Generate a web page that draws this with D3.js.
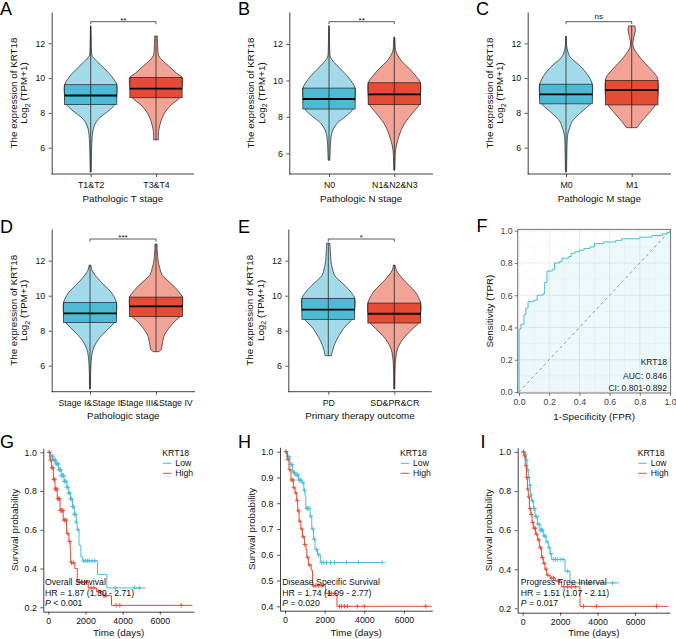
<!DOCTYPE html>
<html>
<head>
<meta charset="utf-8">
<script src="https://cdn.jsdelivr.net/npm/d3@7"></script>
<style>
  body { margin: 0; background: #fff; }
  svg { display: block; }
</style>
</head>
<body>
<svg id="fig" width="676" height="639"></svg>
<script>
// ---- violin / box data (KRT18, log2 TPM+1) ----
// box rows: [min, q1, median, q3, max]; density rows: [value, relative half-width]
const catsA = ["T1&T2", "T3&T4"];
const boxA = [[4.6, 8.48, 9.0, 9.62, 13.0], [6.45, 8.87, 9.4, 10.04, 12.42]];
const densA1 = [[13.0,0.01],[12.2,0.02],[11.6,0.03],[11.3,0.05],[11.04,0.19],[10.66,0.45],[10.28,0.7],[9.9,0.9],[9.62,1.0],[9.0,1.0],[8.48,0.92],[8.07,0.64],[7.69,0.32],[7.31,0.15],[6.92,0.08],[6.45,0.05],[5.5,0.03],[4.6,0.02]];
const densA2 = [[12.42,0.05],[12.0,0.06],[11.6,0.07],[11.3,0.1],[11.04,0.23],[10.66,0.51],[10.28,0.79],[10.04,1.0],[9.5,1.0],[8.87,0.9],[8.46,0.58],[8.07,0.36],[7.69,0.23],[7.31,0.15],[6.92,0.1],[6.45,0.09]];

const catsB = ["N0", "N1&N2&N3"];
const boxB = [[5.62, 8.43, 8.98, 9.58, 13.0], [5.07, 8.67, 9.23, 9.87, 12.37]];
const densB1 = [[13.0,0.01],[12.2,0.02],[11.6,0.03],[11.3,0.05],[11.0,0.19],[10.62,0.45],[10.24,0.7],[9.86,0.9],[9.58,1.0],[9.0,1.0],[8.43,0.92],[8.03,0.64],[7.66,0.32],[7.28,0.15],[6.9,0.08],[6.4,0.05],[5.9,0.04],[5.62,0.03]];
const densB2 = [[12.37,0.02],[12.0,0.03],[11.6,0.06],[11.1,0.26],[10.64,0.58],[10.2,0.85],[9.87,1.0],[9.2,1.0],[8.67,0.95],[8.3,0.75],[8.0,0.58],[7.6,0.38],[7.26,0.26],[6.7,0.13],[6.2,0.05],[5.6,0.03],[5.07,0.02]];

const catsC = ["M0", "M1"];
const boxC = [[4.6, 8.52, 9.06, 9.65, 12.4], [7.15, 8.46, 9.31, 9.87, 13.0]];
const densC1 = [[12.4,0.02],[11.8,0.03],[11.23,0.15],[10.95,0.35],[10.65,0.57],[10.2,0.82],[9.65,1.0],[9.0,1.0],[8.52,0.92],[8.15,0.66],[7.77,0.38],[7.47,0.22],[7.19,0.15],[6.8,0.07],[6.2,0.04],[5.4,0.03],[4.6,0.02]];
const densC2 = [[13.0,0.12],[12.75,0.14],[12.4,0.09],[12.1,0.05],[11.8,0.06],[11.42,0.2],[11.0,0.42],[10.65,0.64],[10.08,0.96],[9.87,1.0],[9.0,1.0],[8.46,0.9],[7.96,0.64],[7.48,0.36],[7.15,0.2]];

const catsD = ["Stage I&Stage II", "Stage III&Stage IV"];
const boxD = [[4.67, 8.46, 8.99, 9.62, 11.75], [6.8, 8.8, 9.39, 9.92, 12.95]];
const densD1 = [[11.75,0.03],[11.45,0.08],[11.18,0.19],[10.9,0.35],[10.6,0.54],[10.2,0.8],[9.62,1.0],[9.0,1.0],[8.46,0.92],[8.2,0.75],[7.94,0.58],[7.65,0.4],[7.37,0.26],[6.99,0.13],[6.5,0.06],[5.8,0.03],[4.67,0.02]];
const densD2 = [[12.95,0.04],[12.5,0.05],[12.0,0.08],[11.6,0.14],[11.18,0.23],[10.9,0.42],[10.6,0.64],[10.2,0.88],[9.92,1.0],[9.4,1.0],[8.8,0.9],[8.55,0.72],[8.32,0.58],[7.75,0.32],[7.18,0.23],[6.9,0.19],[6.8,0.1]];

const catsE = ["PD", "SD&PR&CR"];
const boxE = [[6.57, 8.65, 9.2, 9.85, 13.0], [4.67, 8.44, 8.97, 9.58, 11.75]];
const densE1 = [[13.0,0.06],[12.5,0.08],[12.0,0.1],[11.6,0.15],[11.18,0.23],[10.9,0.4],[10.6,0.62],[10.2,0.86],[9.85,1.0],[9.2,1.0],[8.65,0.9],[8.4,0.74],[8.13,0.58],[7.75,0.42],[7.37,0.28],[6.8,0.15],[6.57,0.12]];
const densE2 = [[11.75,0.03],[11.45,0.08],[11.18,0.2],[10.9,0.36],[10.6,0.55],[10.2,0.8],[9.58,1.0],[9.0,1.0],[8.44,0.92],[8.2,0.76],[7.94,0.58],[7.65,0.4],[7.37,0.26],[6.99,0.13],[6.5,0.06],[5.8,0.03],[4.67,0.02]];

const sigLabels = ["**", "**", "ns", "***", "*"];
const violinTicks = [6, 8, 10, 12];

// ---- ROC ----
const rocFpr = [0, 0, 0.013, 0.033, 0.045, 0.06, 0.1, 0.12, 0.16, 0.17, 0.185, 0.22, 0.235, 0.27, 0.285, 0.33, 0.345, 0.37, 0.4, 0.43, 0.47, 0.5, 0.56, 0.64, 0.68, 0.8, 0.88, 0.95, 0.98, 1];
const rocTpr = [0, 0.39, 0.42, 0.48, 0.52, 0.56, 0.57, 0.6, 0.61, 0.68, 0.75, 0.76, 0.8, 0.81, 0.83, 0.84, 0.86, 0.87, 0.88, 0.89, 0.9, 0.92, 0.93, 0.94, 0.95, 0.96, 0.97, 0.98, 0.99, 1];
const rocTicks = [0, 0.2, 0.4, 0.6, 0.8, 1.0];
const rocMinor = [0.1, 0.3, 0.5, 0.7, 0.9];
const rocText = ["KRT18", "AUC: 0.846", "CI: 0.801-0.892"];

// ---- Kaplan-Meier (time in days, survival probability) ----
const gLowT = [0, 100, 250, 400, 550, 700, 850, 1000, 1100, 1200, 1300, 1400, 1500, 1550, 1650, 1750, 1850, 2650, 3150];
const gLowS = [1.0, 0.98, 0.96, 0.94, 0.91, 0.88, 0.85, 0.82, 0.79, 0.76, 0.72, 0.68, 0.64, 0.6, 0.52, 0.46, 0.44, 0.37, 0.30];
const gLowC = [50,120,180,240,300,340,380,420,460,500,540,580,620,660,700,740,780,820,860,900,950,1000,1050,1100,1150,1200,1250,1300,1350,1400,1450,1500,1600,1900,2000,2100,2200,2350,2500,3600,4650,4900];
const gHighT = [0, 90, 180, 270, 360, 480, 630, 800, 985, 1110, 1180, 1200, 1430, 1560, 2150, 2600, 2950, 3400];
const gHighS = [1.0, 0.96, 0.92, 0.86, 0.81, 0.76, 0.70, 0.65, 0.58, 0.54, 0.50, 0.43, 0.40, 0.33, 0.30, 0.28, 0.26, 0.21];
const gHighC = [60,130,200,240,300,330,380,420,470,510,560,600,650,700,740,780,850,900,950,1050,1150,1250,1350,1650,1800,1950,2050,2300,2450,2700,2800,3000,3100,3650,3850,7150];

const hLowT = [0, 85, 250, 390, 500, 680, 850, 950, 1010, 1050, 1270, 1350, 1440, 1520, 1640, 1780];
const hLowS = [1.0, 0.98, 0.95, 0.92, 0.91, 0.89, 0.88, 0.85, 0.83, 0.78, 0.75, 0.70, 0.66, 0.62, 0.60, 0.57];
const hLowC = [60,150,200,300,350,430,470,550,600,650,700,750,800,900,980,1100,1150,1200,1300,1400,1480,1600,1700,1850,1950,2100,2300,2500,3100,3700,4900];
const hHighT = [0, 120, 200, 300, 420, 510, 590, 640, 710, 800, 880, 980, 1060, 1100, 1180, 1320, 1390, 2050, 2620];
const hHighS = [1.0, 0.97, 0.93, 0.89, 0.86, 0.84, 0.81, 0.77, 0.73, 0.70, 0.67, 0.64, 0.62, 0.59, 0.56, 0.54, 0.48, 0.45, 0.40];
const hHighC = [50,150,250,350,400,450,550,620,680,750,850,920,1000,1150,1250,1450,1550,1700,1850,2200,2350,2500,2750,2850,3000,3150,3650,4000,7100];

const iLowT = [0, 100, 180, 230, 300, 360, 410, 480, 570, 660, 780, 920, 1100, 1250, 1370, 1460, 1550, 2260, 2530];
const iLowS = [1.0, 0.99, 0.96, 0.91, 0.87, 0.83, 0.78, 0.75, 0.71, 0.67, 0.63, 0.60, 0.57, 0.54, 0.51, 0.48, 0.45, 0.39, 0.33];
const iLowC = [50,130,200,270,330,390,450,520,600,640,700,750,820,880,960,1000,1050,1150,1200,1300,1420,1500,1650,1750,1850,2000,2150,2400,3600,4800];
const iHighT = [0, 70, 140, 200, 250, 300, 360, 430, 500, 570, 690, 800, 890, 1010, 1100, 1190, 1280, 1460, 1730, 2080, 3060];
const iHighS = [1.0, 0.98, 0.93, 0.87, 0.81, 0.77, 0.71, 0.68, 0.64, 0.61, 0.58, 0.55, 0.51, 0.46, 0.43, 0.40, 0.37, 0.355, 0.34, 0.31, 0.21];
const iHighC = [40,100,170,220,280,330,390,460,530,620,660,730,850,950,1050,1150,1250,1350,1550,1650,1900,2200,2400,2600,2800,3250,3950,7150];

const kmEnds = { g: [5250, 7750], h: [5050, 7400], i: [5150, 7780] };
const kmNotes = {
  g: ["Overall Survival", "HR = 1.87 (1.30 - 2.71)", "< 0.001"],
  h: ["Disease Specific Survival", "HR = 1.74 (1.09 - 2.77)", "= 0.020"],
  i: ["Progress Free Interval", "HR = 1.51 (1.07 - 2.11)", "= 0.017"]
};
const kmGroups = ["Low", "High"];

// ---- drawing ----
const FONT = '"Liberation Sans", Arial, Helvetica, sans-serif';
const BLUE = "#4DBBD5", RED = "#E64B35";
const BLUE_L = "#A3DAE9", RED_L = "#F3A396";
const INK = "#111";

const svg = d3.select("#fig").attr("font-family", FONT);

function styleAxis(sel, size, color) {
  sel.attr("font-family", FONT).attr("font-size", size);
  sel.selectAll("text").attr("fill", color || INK);
  sel.selectAll("line").attr("stroke", color || INK).attr("stroke-width", 0.7);
  sel.selectAll("path.domain").attr("stroke", color || INK).attr("stroke-width", 0.8);
}

function letter(txt, x, y) {
  svg.append("text").attr("x", x).attr("y", y).attr("font-size", 18).attr("fill", "#000").text(txt);
}

function expressionTitle(axisX, cy) {
  svg.append("text")
      .attr("transform", `translate(${axisX - 35},${cy}) rotate(-90)`)
      .attr("text-anchor", "middle").attr("font-size", 9.8).attr("fill", INK)
      .text("The expression of KRT18");
  const t2 = svg.append("text")
      .attr("transform", `translate(${axisX - 24.5},${cy}) rotate(-90)`)
      .attr("text-anchor", "middle").attr("font-size", 9.8).attr("fill", INK);
  t2.append("tspan").text("Log");
  t2.append("tspan").attr("font-size", 7).attr("dy", 2.5).text("2");
  t2.append("tspan").attr("dy", -2.5).text(" (TPM+1)");
}

function violinPanel(p) {
  const g = svg.append("g");
  const y0 = d3.scaleLinear().domain([6, 12]).range([p.y6, p.y12]);
  const y = d3.scaleLinear().domain([y0.invert(p.bottom), y0.invert(p.top)]).range([p.bottom, p.top]);
  const x = d3.scalePoint().domain(p.cats).range([p.c1, p.c2]);
  const step = p.c2 - p.c1;
  const vw = step * 0.4, bw = step * 0.4;

  p.cats.forEach((c, i) => {
    const cx = x(c);
    const area = d3.area()
        .curve(d3.curveCatmullRom)
        .y(d => y(d[0]))
        .x0(d => cx - vw * d[1])
        .x1(d => cx + vw * d[1]);
    g.append("path")
        .attr("d", area(p.dens[i]))
        .attr("fill", i ? RED_L : BLUE_L)
        .attr("stroke", INK)
        .attr("stroke-width", 0.65);
    const b = p.boxes[i];
    g.append("rect")
        .attr("x", cx - bw).attr("y", y(b[3]))
        .attr("width", 2 * bw).attr("height", y(b[1]) - y(b[3]))
        .attr("fill", i ? RED : BLUE)
        .attr("stroke", "#222").attr("stroke-width", 0.7);
    g.append("line")
        .attr("x1", cx).attr("x2", cx)
        .attr("y1", y(b[0])).attr("y2", y(b[4]))
        .attr("stroke", INK).attr("stroke-width", 0.7);
    g.append("line")
        .attr("x1", cx - bw).attr("x2", cx + bw)
        .attr("y1", y(b[2])).attr("y2", y(b[2]))
        .attr("stroke", "#000").attr("stroke-width", 1.8);
  });

  // significance bracket
  const x1 = x(p.cats[0]), x2 = x(p.cats[1]);
  g.append("path")
      .attr("d", `M${x1},${p.by + 2.5}V${p.by}H${x2}V${p.by + 2.5}`)
      .attr("fill", "none").attr("stroke", INK).attr("stroke-width", 0.7);
  const isStar = p.sig.indexOf("*") >= 0;
  g.append("text")
      .attr("x", (x1 + x2) / 2).attr("y", isStar ? p.by + 0.8 : p.by - 2.4)
      .attr("text-anchor", "middle").attr("font-size", 8).attr("fill", INK)
      .text(p.sig);

  const ya = g.append("g").attr("transform", `translate(${p.ax},0)`)
      .call(d3.axisLeft(y).tickValues(violinTicks).tickSize(3).tickPadding(3.5).tickSizeOuter(0));
  styleAxis(ya, 8.8);

  const xa = g.append("g").attr("transform", `translate(0,${p.bottom})`)
      .call(d3.axisBottom(x).tickSize(3).tickPadding(p.xpad).tickSizeOuter(0));
  xa.select(".domain").remove();
  styleAxis(xa, 8.8);
  g.append("line")
      .attr("x1", p.ax).attr("x2", p.axEnd)
      .attr("y1", p.bottom).attr("y2", p.bottom)
      .attr("stroke", INK).attr("stroke-width", 0.8);

  expressionTitle(p.ax, (p.top + p.bottom) / 2);
  g.append("text")
      .attr("x", (p.ax + p.axEnd) / 2).attr("y", p.titleY)
      .attr("text-anchor", "middle").attr("font-size", 9.8).attr("fill", INK)
      .text(p.xTitle);
}

function rocPanel() {
  const g = svg.append("g");
  const left = 517.7, right = 670.7, top = 229.3, bottom = 393;
  const x = d3.scaleLinear().domain([0, 1]).range([519, 670]);
  const y = d3.scaleLinear().domain([0, 1]).range([392, 230.7]);

  g.append("rect").attr("x", left).attr("y", top)
      .attr("width", right - left).attr("height", bottom - top).attr("fill", "#fff");
  rocMinor.forEach(v => {
    g.append("line").attr("x1", x(v)).attr("x2", x(v)).attr("y1", top).attr("y2", bottom)
        .attr("stroke", "#F2F2F2").attr("stroke-width", 0.5);
    g.append("line").attr("x1", left).attr("x2", right).attr("y1", y(v)).attr("y2", y(v))
        .attr("stroke", "#F2F2F2").attr("stroke-width", 0.5);
  });
  rocTicks.forEach(v => {
    g.append("line").attr("x1", x(v)).attr("x2", x(v)).attr("y1", top).attr("y2", bottom)
        .attr("stroke", "#E6E6E6").attr("stroke-width", 0.8);
    g.append("line").attr("x1", left).attr("x2", right).attr("y1", y(v)).attr("y2", y(v))
        .attr("stroke", "#E6E6E6").attr("stroke-width", 0.8);
  });

  const pts = rocFpr.map((f, i) => [f, rocTpr[i]]);
  const area = d3.area().curve(d3.curveStepAfter)
      .x(d => x(d[0])).y0(y(0)).y1(d => y(d[1]));
  g.append("path").attr("d", area(pts)).attr("fill", BLUE).attr("fill-opacity", 0.1);

  g.append("line").attr("x1", x(0)).attr("y1", y(0)).attr("x2", x(1)).attr("y2", y(1))
      .attr("stroke", "#808080").attr("stroke-width", 0.8).attr("stroke-dasharray", "3,3");

  const line = d3.line().curve(d3.curveStepAfter).x(d => x(d[0])).y(d => y(d[1]));
  g.append("path").attr("d", line(pts)).attr("fill", "none")
      .attr("stroke", "#4DBBD5").attr("stroke-width", 1);

  rocText.forEach((t, i) => {
    g.append("text").attr("x", 667).attr("y", [364.7, 378.7, 390.7][i])
        .attr("text-anchor", "end").attr("font-size", 8.5).attr("fill", "#222").text(t);
  });

  g.append("rect").attr("x", left).attr("y", top)
      .attr("width", right - left).attr("height", bottom - top)
      .attr("fill", "none").attr("stroke", "#555").attr("stroke-width", 0.8);

  const fmt = d3.format(".1f");
  const xa = g.append("g").attr("transform", `translate(0,${bottom})`)
      .call(d3.axisBottom(x).tickValues(rocTicks).tickFormat(fmt).tickSize(3).tickPadding(2.5).tickSizeOuter(0));
  xa.select(".domain").remove();
  styleAxis(xa, 8.8, "#444");
  const ya = g.append("g").attr("transform", `translate(${left},0)`)
      .call(d3.axisLeft(y).tickValues(rocTicks).tickFormat(fmt).tickSize(3).tickPadding(2).tickSizeOuter(0));
  ya.select(".domain").remove();
  styleAxis(ya, 8.8, "#444");

  g.append("text").attr("x", (left + right) / 2).attr("y", 420.2)
      .attr("text-anchor", "middle").attr("font-size", 9.8).attr("fill", INK)
      .text("1-Specificity (FPR)");
  g.append("text").attr("transform", `translate(${left - 24.5},${(top + bottom) / 2}) rotate(-90)`)
      .attr("text-anchor", "middle").attr("font-size", 9.8).attr("fill", INK)
      .text("Sensitivity (TPR)");
}

function kmPanel(p) {
  const g = svg.append("g");
  const x = d3.scaleLinear().domain(p.xDom).range([p.left, p.right]);
  const y = d3.scaleLinear().domain(p.yDom).range([p.bottom, p.top]);
  const colors = [BLUE, RED];

  p.series.forEach((s, k) => {
    const pts = s.t.map((t, i) => [t, s.s[i]]).concat([[s.end, s.s[s.s.length - 1]]]);
    const line = d3.line().curve(d3.curveStepAfter).x(d => x(d[0])).y(d => y(d[1]));
    g.append("path").attr("d", line(pts)).attr("fill", "none")
        .attr("stroke", colors[k]).attr("stroke-width", 1);
    const marks = s.c.map(t => {
      const v = s.s[d3.bisectRight(s.t, t) - 1];
      const cx = x(t), cy = y(v);
      return `M${cx - 2.3},${cy}H${cx + 2.3}M${cx},${cy - 2.3}V${cy + 2.3}`;
    }).join("");
    g.append("path").attr("d", marks).attr("fill", "none")
        .attr("stroke", colors[k]).attr("stroke-width", 0.9);
  });

  const ya = g.append("g").attr("transform", `translate(${p.left},0)`)
      .call(d3.axisLeft(y).tickValues(p.yTicks).tickFormat(d3.format(".1f")).tickSize(3).tickPadding(3.5).tickSizeOuter(0));
  styleAxis(ya, 8.8);
  const xa = g.append("g").attr("transform", `translate(0,${p.bottom})`)
      .call(d3.axisBottom(x).tickValues([0, 2000, 4000, 6000]).tickFormat(d3.format("d")).tickSize(3).tickPadding(3).tickSizeOuter(0));
  styleAxis(xa, 8.8);

  // legend
  g.append("text").attr("x", p.legX).attr("y", 456).attr("font-size", 8.7).attr("fill", INK).text("KRT18");
  kmGroups.forEach((name, k) => {
    const ly = 463.3 + k * 10;
    g.append("line").attr("x1", p.legX + 0.7).attr("x2", p.legX + 9).attr("y1", ly).attr("y2", ly)
        .attr("stroke", colors[k]).attr("stroke-width", 1);
    g.append("text").attr("x", p.legX + 13).attr("y", ly + 3).attr("font-size", 8.7).attr("fill", INK).text(name);
  });

  // annotation
  const notes = p.notes;
  g.append("text").attr("x", p.noteX).attr("y", 584.5).attr("font-size", 8.7).attr("fill", INK).text(notes[0]);
  g.append("text").attr("x", p.noteX).attr("y", 595.8).attr("font-size", 8.7).attr("fill", INK).text(notes[1]);
  const pt = g.append("text").attr("x", p.noteX).attr("y", 606.3).attr("font-size", 8.7).attr("fill", INK);
  pt.append("tspan").attr("font-style", "italic").text("P");
  pt.append("tspan").text(" " + notes[2]);

  g.append("text").attr("x", (p.left + p.right) / 2).attr("y", 635.8)
      .attr("text-anchor", "middle").attr("font-size", 9.8).attr("fill", INK).text("Time (days)");
  g.append("text").attr("transform", `translate(${p.left - 25.5},${(p.top + p.bottom) / 2}) rotate(-90)`)
      .attr("text-anchor", "middle").attr("font-size", 9.8).attr("fill", INK).text("Survival probability");
}

// row 1
violinPanel({ cats: catsA, boxes: boxA, dens: [densA1, densA2], sig: sigLabels[0],
  ax: 51.7, axEnd: 194, top: 12, bottom: 174, y6: 147.7, y12: 43.3, c1: 90.7, c2: 156,
  by: 21.7, xpad: 5, titleY: 201.5, xTitle: "Pathologic T stage" });
violinPanel({ cats: catsB, boxes: boxB, dens: [densB1, densB2], sig: sigLabels[1],
  ax: 289.3, axEnd: 433, top: 12, bottom: 174, y6: 153.3, y12: 44, c1: 329, c2: 394.3,
  by: 21.7, xpad: 5, titleY: 201.5, xTitle: "Pathologic N stage" });
violinPanel({ cats: catsC, boxes: boxC, dens: [densC1, densC2], sig: sigLabels[2],
  ax: 527.7, axEnd: 671, top: 12, bottom: 174, y6: 147.7, y12: 43.3, c1: 566, c2: 631.7,
  by: 21.7, xpad: 5, titleY: 201.5, xTitle: "Pathologic M stage" });

// row 2
violinPanel({ cats: catsD, boxes: boxD, dens: [densD1, densD2], sig: sigLabels[3],
  ax: 51.7, axEnd: 195, top: 229, bottom: 391.7, y6: 365.7, y12: 260.7, c1: 90, c2: 156,
  by: 239, xpad: 5.3, titleY: 418.5, xTitle: "Pathologic stage" });
violinPanel({ cats: catsE, boxes: boxE, dens: [densE1, densE2], sig: sigLabels[4],
  ax: 288.3, axEnd: 431.7, top: 229, bottom: 391.7, y6: 365.7, y12: 260.7, c1: 328.3, c2: 394.3,
  by: 239, xpad: 5.3, titleY: 418.5, xTitle: "Primary therapy outcome" });
rocPanel();

// row 3
kmPanel({ xDom: [-270, 7840], left: 43.3, right: 194, yDom: [0.1773, 1.0206], bottom: 611.7, top: 448.3,
  yTicks: [0.2, 0.4, 0.6, 0.8, 1.0], legX: 162.3, noteX: 45, notes: kmNotes.g,
  series: [{ t: gLowT, s: gLowS, c: gLowC, end: kmEnds.g[0] }, { t: gHighT, s: gHighS, c: gHighC, end: kmEnds.g[1] }] });
kmPanel({ xDom: [-252, 7430], left: 280, right: 432.3, yDom: [0.383, 1.017], bottom: 610.7, top: 447.3,
  yTicks: [0.4, 0.5, 0.6, 0.7, 0.8, 0.9, 1.0], legX: 400, noteX: 282.3, notes: kmNotes.h,
  series: [{ t: hLowT, s: hLowS, c: hLowC, end: kmEnds.h[0] }, { t: hHighT, s: hHighS, c: hHighC, end: kmEnds.h[1] }] });
kmPanel({ xDom: [-267, 7870], left: 517.7, right: 670, yDom: [0.1775, 1.022], bottom: 612.7, top: 447.7,
  yTicks: [0.2, 0.4, 0.6, 0.8, 1.0], legX: 637.7, noteX: 520.7, notes: kmNotes.i,
  series: [{ t: iLowT, s: iLowS, c: iLowC, end: kmEnds.i[0] }, { t: iHighT, s: iHighS, c: iHighC, end: kmEnds.i[1] }] });

// panel letters
letter("A", 0, 15); letter("B", 238, 15); letter("C", 476, 15);
letter("D", 0, 233); letter("E", 238, 233); letter("F", 476.5, 232);
letter("G", 0, 448); letter("H", 238, 448); letter("I", 480.5, 448);
</script>
</body>
</html>
